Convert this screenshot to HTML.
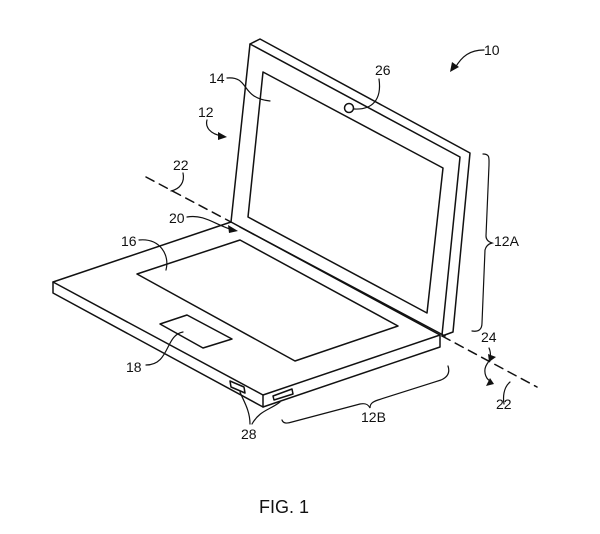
<!DOCTYPE html>
<html><head><meta charset="utf-8"><style>
html,body{margin:0;padding:0;background:#fff;width:600px;height:534px;overflow:hidden}
svg{display:block}
text{font-family:"Liberation Sans",sans-serif;font-size:14px;fill:#111}
</style></head><body>
<svg width="600" height="534" viewBox="0 0 600 534" xmlns="http://www.w3.org/2000/svg">
<g fill="none" stroke="#111" stroke-width="1.5" stroke-linejoin="round" stroke-linecap="round">
<path d="M146 177 L231 222" stroke-dasharray="9,6"/>
<path d="M442 336 L537 387" stroke-dasharray="9,6"/>
<path d="M231 222 L250 44 L260 39 L470 153 L453 332 L442 336"/>
<path d="M250 44 L460 157 L442 335"/>
<path d="M263 72 L443 168 L427 313 L248 217 Z"/>
<circle cx="349" cy="108" r="4.5"/>
<path d="M53 282 L231 222 L440 335 L263 395 Z"/>
<path d="M53 282 L53 293 L263 407 L440 347 L440 335"/>
<path d="M263 395 L263 407"/>
<path d="M240 227 L445 336"/>
<path d="M137 274 L240 240 L398 326 L295 361 Z"/>
<path d="M160 324 L187 315 L232 339 L203 348 Z"/>
<path d="M230 381 L244 387 L245 393 L231 387 Z"/>
<path d="M273 396 L292 389 L293 394 L274 400 Z"/>
</g>
<g fill="none" stroke="#111" stroke-width="1.2" stroke-linecap="round">
<path d="M227 78 C250 76 240 98 270 101"/>
<path d="M379 79 C382 100 372 110 354 109"/>
<path d="M484 50 C470 50 462 56 455 68"/>
<path d="M207 120 C205 127 210 134 222 136"/>
<path d="M183 173 C185 182 180 189 171 191"/>
<path d="M187 217 C205 214 215 225 233 230"/>
<path d="M139 240 C160 238 170 255 166 270"/>
<path d="M146 365 C170 365 165 335 183 332"/>
<path d="M250 424 C250 410 243 400 240 392 M252 424 C260 410 270 410 280 402"/>
<path d="M483 154 C490 154 489 158 489 165 L486 236 C486 240 489 242 492 243 C488 244 486 246 485 250 L482 323 C482 330 478 332 472 331"/>
<path d="M448 366 C450 372 448 377 441 380 L378 400 C372 402 370 404 370 408 C368 404 365 403 360 404 L292 422 C286 424 283 423 282 420"/>
<path d="M489 348 C492 355 490 360 487 364 C483 370 485 378 490 381"/>
<path d="M510 382 C503 388 503 398 504 404"/>
</g>
<g fill="#111">
<path d="M450 72 L452 62 L459 67 Z"/>
<path d="M227 137 L218 132 L218 140 Z"/>
<path d="M238 231 L228 225 L229 233 Z"/>
<path d="M496 357 L488 354 L489 362 Z"/>
<path d="M494 384 L486 386 L490 378 Z"/>
</g>
<text x="484" y="55">10</text>
<text x="375" y="75">26</text>
<text x="209" y="83">14</text>
<text x="198" y="117">12</text>
<text x="173" y="170">22</text>
<text x="169" y="223">20</text>
<text x="121" y="246">16</text>
<text x="126" y="372">18</text>
<text x="241" y="439">28</text>
<text x="361" y="422">12B</text>
<text x="494" y="246">12A</text>
<text x="481" y="342">24</text>
<text x="496" y="409">22</text>
<text x="259" y="513" style="font-size:18px">FIG. 1</text>
</svg>
</body></html>
